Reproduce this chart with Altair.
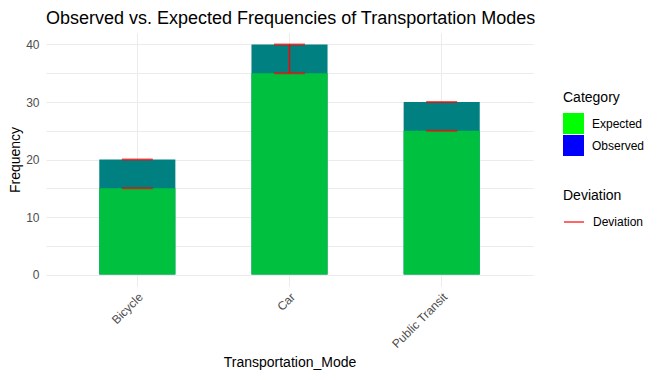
import altair as alt
import pandas as pd

modes = ["Bicycle", "Car", "Public Transit"]
observed = [20, 40, 30]
expected = [15, 35, 25]
categories = ["Expected", "Observed"]
legend_colors = ["#00FF00", "#0000FF"]
stem_modes = ["Car"]
y_ticks = [0, 5, 10, 15, 20, 25, 30, 35, 40]

FONT = "Liberation Sans"
W, H = 487, 253
PAD_L, PAD_T = 38, 25
TOTAL_W, TOTAL_H = 645, 364

df = pd.DataFrame({"Transportation_Mode": modes, "Observed": observed, "Expected": expected})
legend_df = pd.DataFrame({"Transportation_Mode": [modes[0]] * 2, "Category": categories, "zero": [0, 0]})
stem_df = df[df["Transportation_Mode"].isin(stem_modes)].assign(Deviation="Deviation")

x_enc = alt.X(
    "Transportation_Mode:N",
    sort=modes,
    title="Transportation_Mode",
    scale=alt.Scale(paddingInner=0.5, paddingOuter=0.35),
    axis=alt.Axis(labelAngle=315, labelAlign="right", labelBaseline="top",
                  labelPadding=5, titlePadding=6, labelFontSize=12),
)
y_scale = alt.Scale(domain=[-2, 42], nice=False, zero=False)


def yenc(field):
    return alt.Y(
        field,
        scale=y_scale,
        title="Frequency",
        axis=alt.Axis(values=y_ticks, labelExpr="datum.value % 10 == 0 ? datum.label : ''",
                      labelPadding=7, titlePadding=3, labelFontSize=12),
    )


obs_bar = alt.Chart(df).mark_bar(color="#008080").encode(
    x=x_enc, y=yenc("Observed:Q"), y2=alt.datum(0)
)
exp_bar = alt.Chart(df).mark_bar(color="#00C040").encode(
    x=x_enc, y=yenc("Expected:Q"), y2=alt.datum(0)
)
legend_bar = alt.Chart(legend_df).mark_bar().encode(
    x=x_enc,
    y=yenc("zero:Q"),
    y2=alt.datum(0),
    color=alt.Color(
        "Category:N",
        scale=alt.Scale(domain=categories, range=legend_colors),
        legend=alt.Legend(title="Category", symbolType="square", symbolSize=441,
                          symbolStrokeWidth=0, symbolOpacity=1,
                          orient="none", legendX=517, legendY=58),
    ),
)
cap_exp = alt.Chart(df).mark_tick(color="#FF0000", size=31, thickness=2).encode(
    x=x_enc, y=yenc("Expected:Q")
)
cap_obs = alt.Chart(df).mark_tick(color="#FF0000", size=31, thickness=2).encode(
    x=x_enc, y=yenc("Observed:Q")
)
stem = alt.Chart(stem_df).mark_rule(strokeWidth=1.5).encode(
    x=x_enc,
    y=yenc("Expected:Q"),
    y2="Observed:Q",
    stroke=alt.Stroke(
        "Deviation:N",
        scale=alt.Scale(range=["#FF0000"]),
        legend=alt.Legend(title="Deviation", symbolType="stroke", symbolSize=400,
                          symbolStrokeWidth=1.2, symbolStrokeColor="#FF0000",
                          orient="none", legendX=517, legendY=156),
    ),
)

chart = (
    alt.layer(obs_bar, exp_bar, legend_bar, cap_exp, cap_obs, stem)
    .resolve_scale(color="independent")
    .properties(
        width=W,
        height=H,
        title=alt.Title("Observed vs. Expected Frequencies of Transportation Modes",
                        anchor="start", frame="group", fontSize=18, fontWeight="normal",
                        font=FONT, color="black", offset=5),
        autosize=alt.AutoSizeParams(type="none"),
        padding={"left": PAD_L, "top": PAD_T, "right": TOTAL_W - PAD_L - W,
                 "bottom": TOTAL_H - PAD_T - H},
    )
    .configure_view(stroke=None)
    .configure_axis(
        grid=True, gridColor="#EBEBEB", gridWidth=1, domain=False, ticks=False,
        labelFont=FONT, labelFontSize=12, labelColor="#4D4D4D",
        titleFont=FONT, titleFontSize=14, titleFontWeight="normal", titleColor="black",
    )
    .configure_legend(
        titleFont=FONT, titleFontSize=14, titleFontWeight="normal", titleColor="black",
        labelFont=FONT, labelFontSize=12, labelColor="black",
        rowPadding=1, titlePadding=8, padding=0, labelOffset=8,
    )
)

chart.save("out.html", embed_options={"renderer": "svg", "actions": False})
